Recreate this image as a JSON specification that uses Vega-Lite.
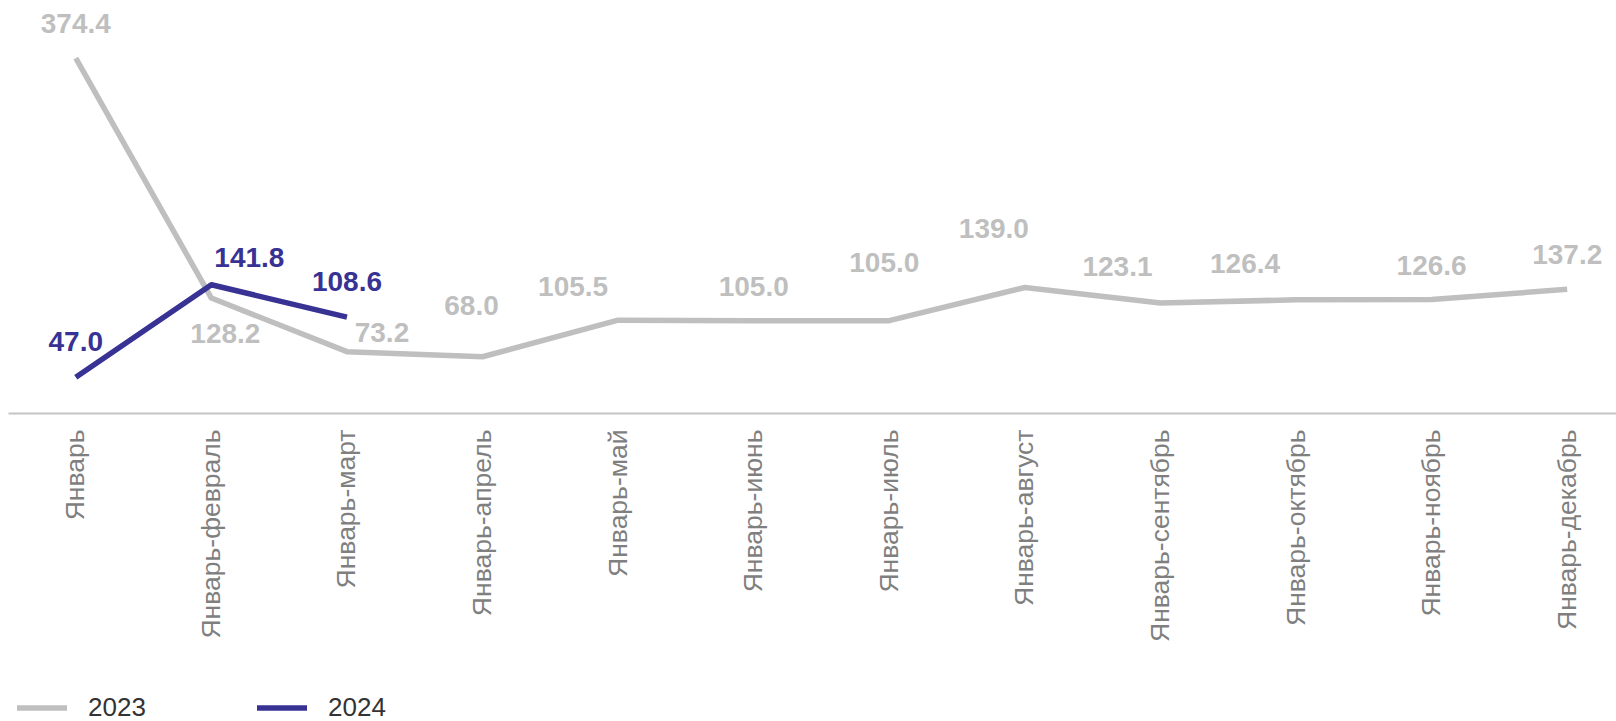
{
  "$schema": "https://vega.github.io/schema/vega-lite/v6.json",
  "width": 1627,
  "height": 423,
  "autosize": "none",
  "padding": {"left": 8, "top": 0, "right": 0, "bottom": 298},
  "background": "white",
  "config": {
    "view": {"stroke": null},
    "font": "Liberation Sans",
    "axis": {"grid": false}
  },
  "data": {
    "values": [
      {"period": "Январь", "year": "2023", "value": 374.4},
      {"period": "Январь-февраль", "year": "2023", "value": 128.2},
      {"period": "Январь-март", "year": "2023", "value": 73.2},
      {"period": "Январь-апрель", "year": "2023", "value": 68.0},
      {"period": "Январь-май", "year": "2023", "value": 105.5},
      {"period": "Январь-июнь", "year": "2023", "value": 105.0},
      {"period": "Январь-июль", "year": "2023", "value": 105.0},
      {"period": "Январь-август", "year": "2023", "value": 139.0},
      {"period": "Январь-сентябрь", "year": "2023", "value": 123.1},
      {"period": "Январь-октябрь", "year": "2023", "value": 126.4},
      {"period": "Январь-ноябрь", "year": "2023", "value": 126.6},
      {"period": "Январь-декабрь", "year": "2023", "value": 137.2},
      {"period": "Январь", "year": "2024", "value": 47.0},
      {"period": "Январь-февраль", "year": "2024", "value": 141.8},
      {"period": "Январь-март", "year": "2024", "value": 108.6}
    ]
  },
  "encoding": {
    "x": {
      "field": "period",
      "type": "nominal",
      "sort": null,
      "scale": {"padding": 0.5},
      "axis": {
        "title": null,
        "labelAngle": -90,
        "labelFontSize": 26.5,
        "labelColor": "#7F7F7F",
        "labelFont": "Liberation Sans",
        "labelPadding": 16,
        "labelLimit": 400,
        "ticks": false,
        "domainColor": "#C4C4C4",
        "domainWidth": 2,
        "offset": -10
      }
    },
    "y": {
      "field": "value",
      "type": "quantitative",
      "scale": {"domain": [0, 434], "nice": false, "zero": true},
      "axis": null
    }
  },
  "layer": [
    {
      "mark": {"type": "line", "strokeWidth": 5.5, "strokeJoin": "round"},
      "encoding": {
        "color": {
          "field": "year",
          "type": "nominal",
          "scale": {"domain": ["2023", "2024"], "range": ["#BFBFBF", "#373293"]},
          "legend": {
            "title": null,
            "orient": "none",
            "direction": "horizontal",
            "legendX": 6,
            "legendY": 680,
            "symbolType": "stroke",
            "symbolSize": 2500,
            "symbolStrokeWidth": 5.5,
            "labelFontSize": 26,
            "labelFont": "Liberation Sans",
            "labelColor": "#333333",
            "labelOffset": 18,
            "columnPadding": 100,
            "padding": 0
          }
        }
      }
    },
    {
      "transform": [{"filter": "datum.year == '2023' && indexof(['Январь','Январь-июнь','Январь-ноябрь','Январь-декабрь'], datum.period) >= 0"}],
      "mark": {"type": "text", "font": "Liberation Sans", "fontWeight": "bold", "fontSize": 28, "color": "#BFBFBF", "baseline": "middle", "dy": -33},
      "encoding": {"text": {"field": "value", "type": "quantitative", "format": ".1f"}}
    },
    {
      "transform": [{"filter": "datum.year == '2023' && datum.period == 'Январь-февраль'"}],
      "mark": {"type": "text", "font": "Liberation Sans", "fontWeight": "bold", "fontSize": 28, "color": "#BFBFBF", "baseline": "middle", "dx": 14, "dy": 37},
      "encoding": {"text": {"field": "value", "type": "quantitative", "format": ".1f"}}
    },
    {
      "transform": [{"filter": "datum.year == '2023' && datum.period == 'Январь-март'"}],
      "mark": {"type": "text", "font": "Liberation Sans", "fontWeight": "bold", "fontSize": 28, "color": "#BFBFBF", "baseline": "middle", "dx": 35, "dy": -18},
      "encoding": {"text": {"field": "value", "type": "quantitative", "format": ".1f"}}
    },
    {
      "transform": [{"filter": "datum.year == '2023' && datum.period == 'Январь-апрель'"}],
      "mark": {"type": "text", "font": "Liberation Sans", "fontWeight": "bold", "fontSize": 28, "color": "#BFBFBF", "baseline": "middle", "dx": -11, "dy": -50},
      "encoding": {"text": {"field": "value", "type": "quantitative", "format": ".1f"}}
    },
    {
      "transform": [{"filter": "datum.year == '2023' && datum.period == 'Январь-май'"}],
      "mark": {"type": "text", "font": "Liberation Sans", "fontWeight": "bold", "fontSize": 28, "color": "#BFBFBF", "baseline": "middle", "dx": -45, "dy": -32},
      "encoding": {"text": {"field": "value", "type": "quantitative", "format": ".1f"}}
    },
    {
      "transform": [{"filter": "datum.year == '2023' && datum.period == 'Январь-июль'"}],
      "mark": {"type": "text", "font": "Liberation Sans", "fontWeight": "bold", "fontSize": 28, "color": "#BFBFBF", "baseline": "middle", "dx": -5, "dy": -57},
      "encoding": {"text": {"field": "value", "type": "quantitative", "format": ".1f"}}
    },
    {
      "transform": [{"filter": "datum.year == '2023' && datum.period == 'Январь-август'"}],
      "mark": {"type": "text", "font": "Liberation Sans", "fontWeight": "bold", "fontSize": 28, "color": "#BFBFBF", "baseline": "middle", "dx": -31, "dy": -58},
      "encoding": {"text": {"field": "value", "type": "quantitative", "format": ".1f"}}
    },
    {
      "transform": [{"filter": "datum.year == '2023' && datum.period == 'Январь-сентябрь'"}],
      "mark": {"type": "text", "font": "Liberation Sans", "fontWeight": "bold", "fontSize": 28, "color": "#BFBFBF", "baseline": "middle", "dx": -43, "dy": -35},
      "encoding": {"text": {"field": "value", "type": "quantitative", "format": ".1f"}}
    },
    {
      "transform": [{"filter": "datum.year == '2023' && datum.period == 'Январь-октябрь'"}],
      "mark": {"type": "text", "font": "Liberation Sans", "fontWeight": "bold", "fontSize": 28, "color": "#BFBFBF", "baseline": "middle", "dx": -51, "dy": -35},
      "encoding": {"text": {"field": "value", "type": "quantitative", "format": ".1f"}}
    },
    {
      "transform": [{"filter": "datum.year == '2024' && datum.period == 'Январь-февраль'"}],
      "mark": {"type": "text", "font": "Liberation Sans", "fontWeight": "bold", "fontSize": 28, "color": "#373293", "baseline": "middle", "dx": 38, "dy": -26},
      "encoding": {"text": {"field": "value", "type": "quantitative", "format": ".1f"}}
    },
    {
      "transform": [{"filter": "datum.year == '2024' && datum.period != 'Январь-февраль'"}],
      "mark": {"type": "text", "font": "Liberation Sans", "fontWeight": "bold", "fontSize": 28, "color": "#373293", "baseline": "middle", "dy": -34},
      "encoding": {"text": {"field": "value", "type": "quantitative", "format": ".1f"}}
    }
  ]
}
